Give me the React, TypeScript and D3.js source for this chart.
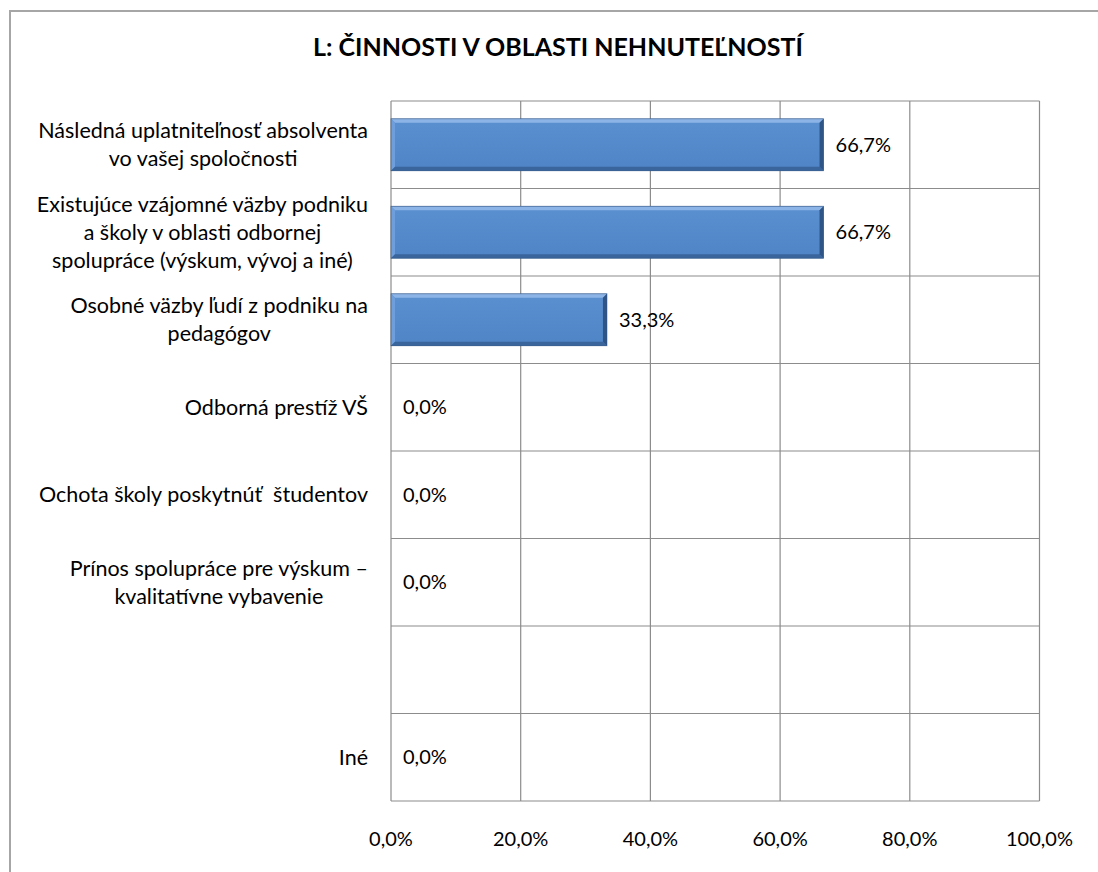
import React, { useEffect, useRef } from "react";
import * as d3 from "d3";

// chart data (top to bottom as drawn)
const categories: string[][] = [
  ["Následná uplatniteľnosť absolventa", "vo vašej spoločnosti"],
  ["Existujúce vzájomné väzby podniku", "a školy v oblasti odbornej", "spolupráce (výskum, vývoj a iné)"],
  ["Osobné väzby ľudí z podniku na", "pedagógov"],
  ["Odborná prestíž VŠ"],
  ["Ochota školy poskytnúť  študentov"],
  ["Prínos spolupráce pre výskum –", "kvalitatívne vybavenie"],
  [],
  ["Iné"],
];
const values: (number | null)[] = [66.7, 66.7, 33.3, 0, 0, 0, null, 0];
const ticks = [0, 20, 40, 60, 80, 100];
const title = "L: ČINNOSTI V OBLASTI NEHNUTEĽNOSTÍ";

const W = 1098;
const H = 872;
const FONT = "Lato, 'Open Sans', sans-serif";

const fmt = (v: number) => v.toFixed(1).replace(".", ",") + "%";

export default function App() {
  const ref = useRef<SVGSVGElement>(null);

  useEffect(() => {
    const svg = d3.select(ref.current);
    svg.selectAll("*").remove();

    const plot = { left: 391, right: 1039.5, top: 101, bottom: 801 };

    const x = d3.scaleLinear().domain([0, 100]).range([plot.left, plot.right]);
    const y = d3
      .scaleBand<number>()
      .domain(d3.range(categories.length))
      .range([plot.top, plot.bottom]);
    const barH = y.bandwidth() * 0.594;

    const defs = svg.append("defs");
    const g1 = defs.append("linearGradient").attr("id", "barFill").attr("x1", 0).attr("y1", 0).attr("x2", 0).attr("y2", 1);
    g1.append("stop").attr("offset", "0%").attr("stop-color", "#5a8fd0");
    g1.append("stop").attr("offset", "100%").attr("stop-color", "#4f84c6");

    // outer frame
    svg.append("rect")
      .attr("x", 10).attr("y", 11)
      .attr("width", W + 20).attr("height", H + 20)
      .attr("fill", "#fff").attr("stroke", "#a6a6a6").attr("stroke-width", 2);

    // title
    svg.append("text")
      .attr("x", 558).attr("y", 56)
      .attr("text-anchor", "middle")
      .style("font-family", FONT).style("font-weight", "bold").style("font-size", "25px")
      .attr("fill", "#000")
      .text(title);

    // grid
    const grid = svg.append("g").attr("stroke", "#8c8c8c").attr("stroke-width", 1.2);
    grid.selectAll("line.v").data(ticks).enter().append("line")
      .attr("x1", (d) => x(d)).attr("x2", (d) => x(d))
      .attr("y1", plot.top).attr("y2", plot.bottom);
    const hs = d3.range(categories.length + 1).map((i) => plot.top + i * y.step());
    grid.selectAll("line.h").data(hs).enter().append("line")
      .attr("x1", plot.left).attr("x2", plot.right)
      .attr("y1", (d) => d).attr("y2", (d) => d);

    // tick labels
    svg.append("g").selectAll("text").data(ticks).enter().append("text")
      .attr("x", (d) => x(d)).attr("y", 846)
      .attr("text-anchor", "middle")
      .style("font-family", FONT).style("font-size", "20px")
      .attr("fill", "#000")
      .text((d) => fmt(d));

    // bars with a soft bevel
    const bars = svg.append("g");
    const bev = 4;
    values.forEach((v, i) => {
      if (v == null || v <= 0) return;
      const x0 = x(0), x1 = x(v);
      const y0 = (y(i) as number) + (y.bandwidth() - barH) / 2, y1 = y0 + barH;
      const bg = bars.append("g");
      bg.append("rect").attr("x", x0).attr("y", y0).attr("width", x1 - x0).attr("height", barH).attr("fill", "url(#barFill)");
      // top
      bg.append("polygon")
        .attr("points", [[x0, y0], [x1, y0], [x1 - bev, y0 + bev], [x0 + bev, y0 + bev]].map((p) => p.join(",")).join(" "))
        .attr("fill", "#8db4e6");
      // left
      bg.append("polygon")
        .attr("points", [[x0, y0], [x0 + bev, y0 + bev], [x0 + bev, y1 - bev], [x0, y1]].map((p) => p.join(",")).join(" "))
        .attr("fill", "#6e9fdc");
      // bottom
      bg.append("polygon")
        .attr("points", [[x0, y1], [x0 + bev, y1 - bev], [x1 - bev, y1 - bev], [x1, y1]].map((p) => p.join(",")).join(" "))
        .attr("fill", "#3a659c");
      // right
      bg.append("polygon")
        .attr("points", [[x1, y0], [x1, y1], [x1 - bev, y1 - bev], [x1 - bev, y0 + bev]].map((p) => p.join(",")).join(" "))
        .attr("fill", "#2f5586");
      bg.append("rect").attr("x", x0).attr("y", y0).attr("width", x1 - x0).attr("height", barH)
        .attr("fill", "none").attr("stroke", "#2c4f7c").attr("stroke-width", 0.8).attr("stroke-opacity", 0.7);
    });

    // value labels
    values.forEach((v, i) => {
      if (v == null) return;
      svg.append("text")
        .attr("x", x(v) + 12)
        .attr("y", (y(i) as number) + y.bandwidth() / 2 + 7)
        .style("font-family", FONT).style("font-size", "20px")
        .attr("fill", "#000")
        .text(fmt(v));
    });

    // category labels: block right-aligned at 368, lines centered in block
    const lineH = 28;
    categories.forEach((lines, i) => {
      if (!lines.length) return;
      const cy = (y(i) as number) + y.bandwidth() / 2;
      const g = svg.append("g");
      const ts = lines.map((l, k) =>
        g.append("text")
          .attr("y", cy + (k - (lines.length - 1) / 2) * lineH + 7.5)
          .attr("text-anchor", "middle")
          .attr("xml:space", "preserve")
          .style("white-space", "pre")
          .style("font-family", FONT).style("font-size", "21.5px")
          .attr("fill", "#000")
          .text(l)
      );
      const widths = ts.map((t) => (t.node() as SVGTextElement).getComputedTextLength());
      const maxW = d3.max(widths) || 0;
      ts.forEach((t) => t.attr("x", 368 - maxW / 2));
    });
  }, []);

  return (
    <svg
      ref={ref}
      width={W}
      height={H}
      style={{ position: "absolute", left: 0, top: 0, background: "#fff" }}
    />
  );
}
